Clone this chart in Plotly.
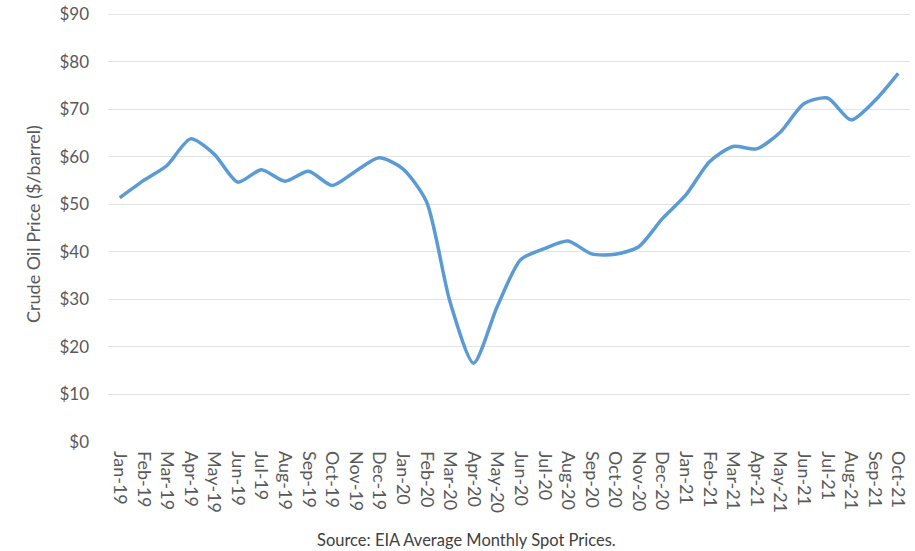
import plotly.graph_objects as go

months = ["Jan-19","Feb-19","Mar-19","Apr-19","May-19","Jun-19","Jul-19","Aug-19","Sep-19","Oct-19","Nov-19","Dec-19",
          "Jan-20","Feb-20","Mar-20","Apr-20","May-20","Jun-20","Jul-20","Aug-20","Sep-20","Oct-20","Nov-20","Dec-20",
          "Jan-21","Feb-21","Mar-21","Apr-21","May-21","Jun-21","Jul-21","Aug-21","Sep-21","Oct-21"]
prices = [51.4, 55.0, 58.2, 63.8, 60.6, 54.7, 57.3, 54.9, 57.0, 54.0, 57.0, 59.8,
          57.5, 50.6, 29.5, 16.6, 28.5, 38.4, 40.7, 42.3, 39.6, 39.5, 41.1, 47.0,
          52.0, 59.0, 62.2, 61.7, 65.2, 71.2, 72.4, 67.8, 71.8, 77.6]
y_ticks = [0, 10, 20, 30, 40, 50, 60, 70, 80, 90]
y_labels = ["$" + str(v) for v in y_ticks]

fig = go.Figure()
fig.add_trace(go.Scatter(
    x=months, y=prices, mode="lines",
    line=dict(color="#5B9BD5", width=3.5, shape="spline", smoothing=0.7),
    showlegend=False, hoverinfo="x+y"))

W, H = 915, 551
L, R, T, B = 108, 5, 12, 109
pw, ph = W - L - R, H - T - B

font = "Lato, 'Open Sans', sans-serif"
fig.update_layout(
    width=W, height=H,
    margin=dict(l=L, r=R, t=T, b=B),
    paper_bgcolor="white", plot_bgcolor="white",
    font=dict(family=font, color="#595959", size=16),
    xaxis=dict(type="category", range=[-0.5, len(months) - 0.5], automargin=False,
               tickangle=90, showgrid=False, zeroline=False, showline=False,
               ticklabelstandoff=8,
               tickfont=dict(size=18, color="#595959"), ticks=""),
    yaxis=dict(range=[0, 90.5], tickvals=y_ticks, ticktext=y_labels, automargin=False,
               showgrid=True, gridcolor="#e3e3e3", gridwidth=1.2,
               zeroline=False, showline=False, ticks="",
               ticklabelstandoff=18, ticklabeloverflow="allow",
               tickfont=dict(size=17, color="#595959")),
    annotations=[
        dict(text="Source: EIA Average Monthly Spot Prices.", xref="paper", yref="paper",
             x=(466 - L) / pw, y=(T + ph - 540) / ph, yanchor="middle", xanchor="center",
             showarrow=False, font=dict(size=16.5, color="#404040")),
        dict(text="Crude Oil Price ($/barrel)", xref="paper", yref="paper",
             x=(33 - L) / pw, y=(T + ph - 224) / ph, xanchor="center", yanchor="middle",
             textangle=-90, showarrow=False, font=dict(size=18, color="#595959")),
    ]
)

fig.write_html("out.html", config={"displayModeBar": False},
               post_script="document.body.style.margin='0';")
